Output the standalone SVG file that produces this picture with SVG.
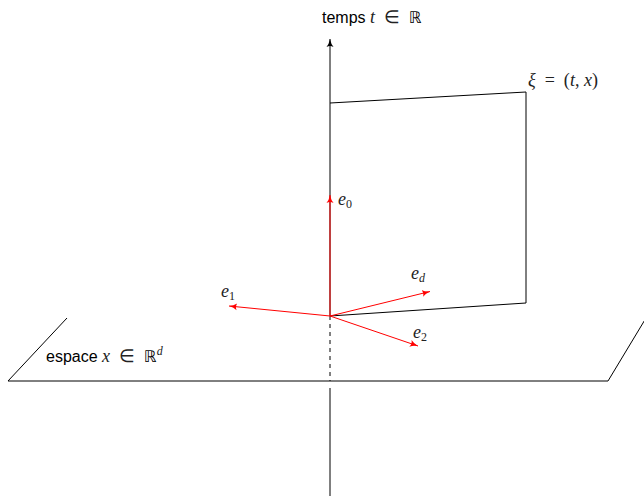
<svg xmlns="http://www.w3.org/2000/svg" width="644" height="496" viewBox="0 0 644 496">
<style>
.ln{stroke:#000;stroke-width:1;fill:none}
.rd{stroke:#f00;stroke-width:1;fill:none}
.t{font-family:"Liberation Sans",Arial,sans-serif;font-size:16px;fill:#000}
.m{font-family:"Liberation Serif","Times New Roman",serif;font-style:italic;font-size:18px;fill:#222}
.mr{font-family:"Liberation Serif","Times New Roman",serif;font-style:normal;font-size:18px;fill:#222}
.bb{font-family:"DejaVu Sans",sans-serif;font-style:normal;font-size:16px;fill:#000}
.s{font-size:12px}
</style>
<defs>
<marker id="ab" markerWidth="10" markerHeight="8" refX="8" refY="4" orient="auto" markerUnits="userSpaceOnUse">
<path d="M0,0.5 Q3,3 8,4 Q3,5 0,7.5 Q2,4 0,0.5Z" fill="#000"/>
</marker>
<marker id="ar" markerWidth="10" markerHeight="8" refX="8" refY="4" orient="auto" markerUnits="userSpaceOnUse">
<path d="M0,0.5 Q3,3 8,4 Q3,5 0,7.5 Q2,4 0,0.5Z" fill="#f00"/>
</marker>
</defs>
<g id="connectors">
<line class="ln" x1="330" y1="316" x2="330" y2="39" marker-end="url(#ab)"/>
<line class="ln" x1="330" y1="316" x2="330" y2="381" stroke-dasharray="4,4"/>
<line class="ln" x1="330" y1="388" x2="330" y2="496"/>
</g>
<g id="plane">
<polyline class="ln" points="67,318 8,381 608,381 646,318"/>
</g>
<g id="sheet">
<polyline class="ln" points="330,103 526,92 526,303 330,316"/>
</g>
<g id="vectors">
<line class="rd" x1="330" y1="316" x2="330" y2="195" marker-end="url(#ar)"/>
<line class="rd" x1="330" y1="316" x2="229" y2="306" marker-end="url(#ar)"/>
<line class="rd" x1="330" y1="316" x2="430" y2="291.5" marker-end="url(#ar)"/>
<line class="rd" x1="330" y1="316" x2="418" y2="346" marker-end="url(#ar)"/>
</g>
<g id="labels">
<text x="322" y="23" xml:space="preserve"><tspan class="t">temps </tspan><tspan class="m">t</tspan><tspan class="mr">  ∈  </tspan><tspan class="bb">ℝ</tspan></text>
<text x="528" y="86" xml:space="preserve"><tspan class="m">ξ</tspan><tspan class="mr">  =  (</tspan><tspan class="m">t</tspan><tspan class="mr">, </tspan><tspan class="m">x</tspan><tspan class="mr">)</tspan></text>
<text x="46" y="362" xml:space="preserve"><tspan class="t">espace </tspan><tspan class="m">x</tspan><tspan class="mr">  ∈  </tspan><tspan class="bb">ℝ</tspan><tspan class="m s" dy="-7">d</tspan></text>
<text x="338" y="205"><tspan class="m">e</tspan><tspan class="mr s" dy="3">0</tspan></text>
<text x="221" y="297"><tspan class="m">e</tspan><tspan class="mr s" dy="3">1</tspan></text>
<text x="411" y="279"><tspan class="m">e</tspan><tspan class="m s" dy="3">d</tspan></text>
<text x="413" y="338"><tspan class="m">e</tspan><tspan class="mr s" dy="3">2</tspan></text>
</g>
</svg>
